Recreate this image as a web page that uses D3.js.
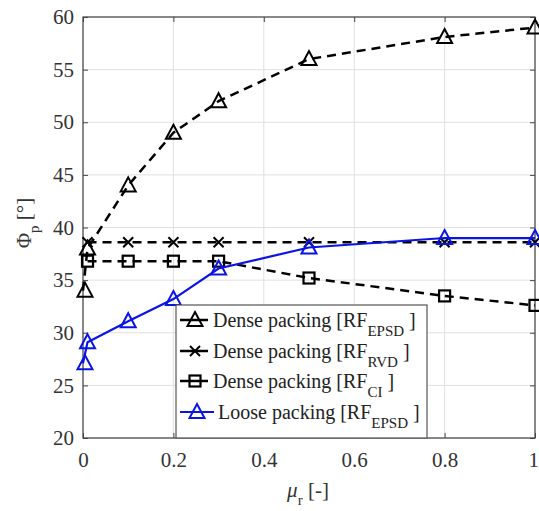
<!DOCTYPE html>
<html><head><meta charset="utf-8">
<script src="https://cdn.jsdelivr.net/npm/d3@7"></script>
<style>body{margin:0;background:#fff}</style>
</head><body><svg id="c" width="539" height="511"></svg>
<script>
const xTicks=[0,0.2,0.4,0.6,0.8,1];
const yTicks=[20,25,30,35,40,45,50,55,60];
const xEPSD=[0,0.01,0.1,0.2,0.3,0.5,0.8,1];
const denseEPSD=[34,38,44,49,52,56,58.1,59];
const xRVD=[0.01,0.1,0.2,0.3,0.5,0.8,1];
const denseRVD=[38.6,38.6,38.6,38.6,38.6,38.6,38.6];
const xCI=[0.01,0.1,0.2,0.3,0.5,0.8,1];
const denseCI=[36.8,36.8,36.8,36.8,35.2,33.5,32.6];
const xLoose=[0,0.01,0.1,0.2,0.3,0.5,0.8,1];
const looseEPSD=[27.1,29.1,31.1,33.2,36.1,38.1,39,39];
const legendLabels=[["Dense packing [RF","EPSD"," ]"],["Dense packing [RF","RVD"," ]"],["Dense packing [RF","CI"," ]"],["Loose packing [RF","EPSD"," ]"]];

const FONT='"Liberation Serif"';
const svg=d3.select("#c");
const L=83,R=535,T=17,B=438;
const x=d3.scaleLinear().domain([0,1]).range([L,R]);
const y=d3.scaleLinear().domain([20,60]).range([B,T]);
const g=svg.append("g");
// grid
g.selectAll(".gx").data(xTicks).enter().append("line").attr("x1",d=>x(d)).attr("x2",d=>x(d)).attr("y1",T).attr("y2",B).attr("stroke","#e0e0e0").attr("stroke-width",1);
g.selectAll(".gy").data(yTicks).enter().append("line").attr("y1",d=>y(d)).attr("y2",d=>y(d)).attr("x1",L).attr("x2",R).attr("stroke","#e0e0e0").attr("stroke-width",1);
// axes
const ax=d3.axisBottom(x).tickValues(xTicks).tickSize(-5).tickPadding(14).tickFormat(d=>d===0||d===1?String(d):d3.format(".1f")(d));
const ay=d3.axisLeft(y).tickValues(yTicks).tickSize(-5).tickPadding(9);
const gx=g.append("g").attr("transform",`translate(0,${B})`).call(ax);
const gy=g.append("g").attr("transform",`translate(${L},0)`).call(ay);
const gxt=g.append("g").attr("transform",`translate(0,${T})`).call(d3.axisTop(x).tickValues(xTicks).tickSize(-5).tickFormat(""));
const gyr=g.append("g").attr("transform",`translate(${R},0)`).call(d3.axisRight(y).tickValues(yTicks).tickSize(-5).tickFormat(""));
[gx,gy,gxt,gyr].forEach(a=>{a.attr("font-family",null);a.select(".domain").remove();a.selectAll("line").attr("stroke","#444");a.selectAll("text").style("font-family",FONT).attr("font-size",21).attr("fill","#333");});
// keep the last x tick label inside the window
gx.selectAll(".tick text").filter(d=>d===1).attr("text-anchor","end").attr("x",3.5);
g.append("rect").attr("x",L).attr("y",T).attr("width",R-L).attr("height",B-T).attr("fill","none").attr("stroke","#444").attr("stroke-width",1.2);

const line=d3.line().x(d=>x(d[0])).y(d=>y(d[1]));
function tri(sel,cx,cy,col){sel.append("path").attr("d",`M${cx},${cy-8}L${cx+7.5},${cy+6}L${cx-7.5},${cy+6}Z`).attr("fill","none").attr("stroke",col).attr("stroke-width",2);}
function sq(sel,cx,cy,col){sel.append("rect").attr("x",cx-5.5).attr("y",cy-5.5).attr("width",11).attr("height",11).attr("fill","none").attr("stroke",col).attr("stroke-width",2.2);}
function xm(sel,cx,cy,col){sel.append("path").attr("d",`M${cx-5},${cy-5}L${cx+5},${cy+5}M${cx-5},${cy+5}L${cx+5},${cy-5}`).attr("stroke",col).attr("stroke-width",2);}
const series=[
 {xs:xEPSD,ys:denseEPSD,col:"#000",dash:"9,6",w:2.5,m:tri},
 {xs:xRVD,ys:denseRVD,col:"#000",dash:"9,6",w:2.5,m:xm},
 {xs:xCI,ys:denseCI,col:"#000",dash:"9,6",w:2.5,m:sq},
 {xs:xLoose,ys:looseEPSD,col:"#0a14e6",dash:null,w:2.2,m:tri}
];
const gs=svg.append("g");
series.forEach(s=>{
 const pts=s.xs.map((v,i)=>[v,s.ys[i]]);
 gs.append("path").datum(pts).attr("d",line).attr("fill","none").attr("stroke",s.col).attr("stroke-width",s.w).attr("stroke-dasharray",s.dash);
 pts.forEach(p=>s.m(gs,x(p[0])+(p[0]===0?2:0),y(p[1]),s.col));
});
// legend
const lg=svg.append("g");
lg.append("rect").attr("x",176).attr("y",305).attr("width",251).attr("height",133).attr("fill","#fff").attr("stroke","#555").attr("stroke-width",1.2);
const rowY=[327,358,388,419];
legendLabels.forEach((lab,i)=>{
 const s=series[i];const cy=rowY[i]-7;
 lg.append("line").attr("x1",180).attr("x2",i===3?214:208).attr("y1",cy).attr("y2",cy).attr("stroke",s.col).attr("stroke-width",s.w);
 s.m(lg,i===3?197:195,cy,s.col);
 const t=lg.append("text").attr("x",i===3?218:213).attr("y",rowY[i]).style("font-family",FONT).attr("font-size",20).attr("fill","#222");
 t.append("tspan").text(lab[0]);
 t.append("tspan").attr("dy",9).attr("font-size",15).text(lab[1]);
 t.append("tspan").attr("dy",-9).text(lab[2]);
});
// axis labels
const yl=svg.append("text").attr("transform","translate(31,223) rotate(-90)").attr("text-anchor","middle").style("font-family",FONT).attr("font-size",21).attr("fill","#333");
yl.append("tspan").text("Φ");
yl.append("tspan").attr("dy",8).attr("font-size",15).text("p");
yl.append("tspan").attr("dy",-8).text(" [°]");
const xl=svg.append("text").attr("x",308).attr("y",497).attr("text-anchor","middle").style("font-family",FONT).attr("font-size",21).attr("fill","#333");
xl.append("tspan").attr("font-style","italic").text("μ");
xl.append("tspan").attr("dy",8).attr("font-size",15).text("r");
xl.append("tspan").attr("dy",-8).text(" [-]");
</script></body></html>
